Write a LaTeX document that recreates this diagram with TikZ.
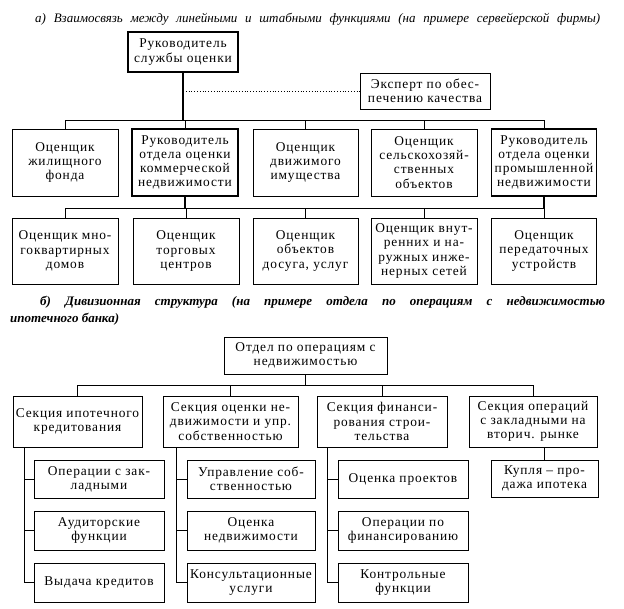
\documentclass[tikz,border=0pt]{standalone}
\usepackage{fontspec}
\setmainfont{Liberation Serif}
\newfontfamily\boxfont{Liberation Serif}[LetterSpace=6.5]
\begin{document}
\begin{tikzpicture}[x=1pt,y=-1pt,
  box/.style={draw, line width=0.9pt, inner sep=0pt, align=center,
    font=\boxfont\fontsize{13.4}{14.2}\selectfont},
  thickbox/.style={box, line width=1.8pt},
  link/.style={line width=0.8pt},
  trunk/.style={line width=1.2pt},
  titlea/.style={font=\fontsize{13}{15}\selectfont\itshape},
  titleb/.style={font=\fontsize{13}{15}\selectfont\bfseries\itshape},
]
\useasboundingbox (0,0) rectangle (624,608);

% ---------- part a ----------
\node[titlea, anchor=base west, inner sep=0pt] (ta) at (35,22)
  {\makebox[565pt][s]{а) Взаимосвязь между линейными и штабными функциями (на примере сервейерской фирмы)}};

\node[thickbox, minimum width=110pt, minimum height=40pt] (ra) at (183,52) {Руководитель\\службы оценки};
\node[box, minimum width=130pt, minimum height=36pt] (exp) at (425,91) {Эксперт по обес-\\печению качества};

\node[box, minimum width=106pt, minimum height=67pt] (a1) at (65,162.5) {Оценщик\\жилищного\\фонда};
\node[thickbox, minimum width=106pt, minimum height=67pt] (a2) at (185,162.5) {Руководитель\\отдела оценки\\коммерческой\\недвижимости};
\node[box, minimum width=105pt, minimum height=67pt] (a3) at (305.5,162.5) {Оценщик\\движимого\\имущества};
\node[box, minimum width=106pt, minimum height=67pt] (a4) at (424,162.5) {Оценщик\\сельскохозяй-\\ственных\\объектов};
\node[thickbox, minimum width=105pt, minimum height=67pt] (a5) at (544,162.5) {Руководитель\\отдела оценки\\промышленной\\недвижимости};

\node[box, minimum width=106pt, minimum height=66pt] (b1) at (65,251) {Оценщик мно-\\гоквартирных\\домов};
\node[box, minimum width=106pt, minimum height=66pt] (b2) at (186,251) {Оценщик\\торговых\\центров};
\node[box, minimum width=105pt, minimum height=66pt] (b3) at (305.5,251) {Оценщик\\объектов\\досуга, услуг};
\node[box, minimum width=106pt, minimum height=66pt] (b4) at (424,251) {Оценщик внут-\\ренних и на-\\ружных инже-\\нерных сетей};
\node[box, minimum width=105pt, minimum height=66pt] (b5) at (544,251) {Оценщик\\передаточных\\устройств};

\coordinate (bus1) at (0,120);
\coordinate (bus2) at (0,208);
\draw[trunk] (ra.south) -- (ra.south |- bus1);
\draw[link, dotted, line width=1pt] (ra.south |- exp.west) -- (exp.west);
\draw[link] (a1.north |- bus1) -- (a5.north |- bus1);
\foreach \n in {a1,a2,a3,a4,a5} \draw[link] (\n.north) -- (\n.north |- bus1);
\draw[trunk] (a2.south) -- (a2.south |- bus2);
\draw[trunk] (a5.south) -- (a5.south |- bus2);
\draw[link] (b1.north |- bus2) -- (b5.north |- bus2);
\foreach \n in {b1,b2,b3,b4,b5} \draw[link] (\n.north) -- (\n.north |- bus2);

% ---------- part b ----------
\node[titleb, anchor=base west, inner sep=0pt] (tb1) at (40,305)
  {\makebox[565pt][s]{б) Дивизионная структура (на примере отдела по операциям с недвижимостью}};
\node[titleb, anchor=base west, inner sep=0pt] (tb2) at (10,322) {ипотечного банка)};

\node[box, minimum width=163pt, minimum height=37pt] (top) at (305.5,355.5) {Отдел по операциям с\\недвижимостью};

\node[box, minimum width=129pt, minimum height=51pt] (s1) at (77.5,421.5) {Секция ипотечного\\кредитования};
\node[box, minimum width=135pt, minimum height=51pt] (s2) at (230.5,421.5) {Секция оценки не-\\движимости и упр.\\собственностью};
\node[box, minimum width=130pt, minimum height=51pt] (s3) at (382,421.5) {Секция финанси-\\рования строи-\\тельства};
\node[box, minimum width=128pt, minimum height=51pt] (s4) at (533,421.5) {Секция операций\\с закладными на\\вторич. рынке};

\node[box, minimum width=130pt, minimum height=38pt] (c11) at (99,479) {Операции с зак-\\ладными};
\node[box, minimum width=130pt, minimum height=39pt] (c12) at (99,530.5) {Аудиторские\\функции};
\node[box, minimum width=130pt, minimum height=39pt] (c13) at (99,582.5) {Выдача кредитов};

\node[box, minimum width=128pt, minimum height=38pt] (c21) at (251,479) {Управление соб-\\ственностью};
\node[box, minimum width=128pt, minimum height=39pt] (c22) at (251,530.5) {Оценка\\недвижимости};
\node[box, minimum width=128pt, minimum height=39pt] (c23) at (251,582.5) {Консультационные\\услуги};

\node[box, minimum width=130pt, minimum height=38pt] (c31) at (403,479) {Оценка проектов};
\node[box, minimum width=130pt, minimum height=39pt] (c32) at (403,530.5) {Операции по\\финансированию};
\node[box, minimum width=130pt, minimum height=39pt] (c33) at (403,582.5) {Контрольные\\функции};

\node[box, minimum width=107pt, minimum height=37pt] (k) at (544.5,478.5) {Купля – про-\\дажа ипотека};

\coordinate (bus3) at (0,385);
\draw[link] (top.south) -- (top.south |- bus3);
\draw[link] (s1.north |- bus3) -- (s4.north |- bus3);
\foreach \n in {s1,s2,s3,s4} \draw[link] (\n.north) -- (\n.north |- bus3);

\coordinate (v1) at (24,0);
\coordinate (v2) at (176,0);
\coordinate (v3) at (327,0);
\draw[link] (s1.south -| v1) -- (c13.west -| v1) -- (c13.west);
\draw[link] (c11.west -| v1) -- (c11.west);
\draw[link] (c12.west -| v1) -- (c12.west);
\draw[link] (s2.south -| v2) -- (c23.west -| v2) -- (c23.west);
\draw[link] (c21.west -| v2) -- (c21.west);
\draw[link] (c22.west -| v2) -- (c22.west);
\draw[link] (s3.south -| v3) -- (c33.west -| v3) -- (c33.west);
\draw[link] (c31.west -| v3) -- (c31.west);
\draw[link] (c32.west -| v3) -- (c32.west);
\draw[link] (k.north) -- (k.north |- s4.south);
\end{tikzpicture}
\end{document}
